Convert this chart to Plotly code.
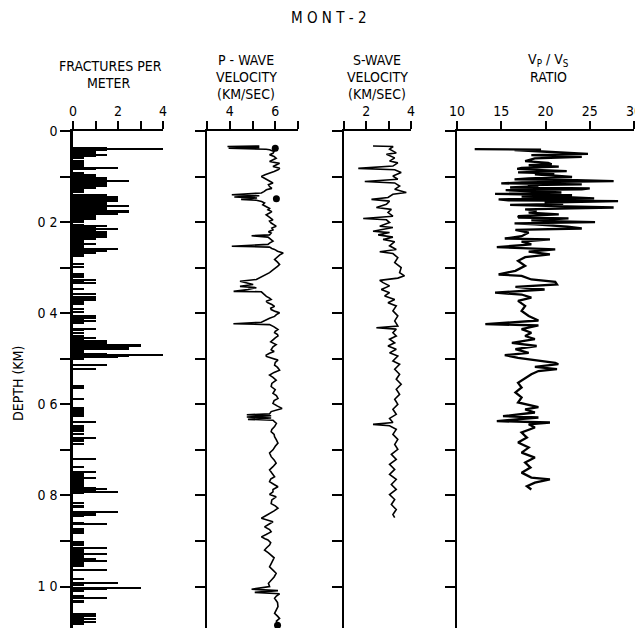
import plotly.graph_objects as go

# ---------------- data ----------------
# Fractures per meter (depth km, value)
frac_depth = [0.038, 0.040, 0.041, 0.043, 0.046, 0.048, 0.050, 0.052, 0.054, 0.056, 0.060, 0.066, 0.069, 0.073,
              0.078, 0.081, 0.084, 0.092, 0.095, 0.098, 0.101, 0.104, 0.107, 0.110, 0.113, 0.116, 0.119, 0.122,
              0.126, 0.130, 0.135, 0.140, 0.143, 0.146, 0.148, 0.150, 0.152, 0.154, 0.157, 0.159, 0.161, 0.163,
              0.165, 0.168, 0.170, 0.172, 0.174, 0.176, 0.178, 0.180, 0.182, 0.185, 0.187, 0.190, 0.192, 0.194,
              0.197, 0.199, 0.201, 0.206, 0.209, 0.211, 0.213, 0.216, 0.218, 0.220, 0.222, 0.224, 0.227, 0.229,
              0.232, 0.234, 0.237, 0.241, 0.243, 0.246, 0.249, 0.252, 0.256, 0.260, 0.262, 0.264, 0.266, 0.268,
              0.270, 0.272, 0.274, 0.293, 0.300, 0.315, 0.318, 0.322, 0.327, 0.329, 0.335, 0.348, 0.359, 0.364,
              0.366, 0.368, 0.370, 0.372, 0.375, 0.377, 0.381, 0.392, 0.398, 0.406, 0.408, 0.410, 0.413, 0.417,
              0.421, 0.435, 0.437, 0.443, 0.450, 0.455, 0.458, 0.461, 0.464, 0.466, 0.470, 0.473, 0.476, 0.479,
              0.482, 0.485, 0.490, 0.492, 0.494, 0.496, 0.499, 0.501, 0.514, 0.522, 0.560, 0.565, 0.589, 0.608,
              0.611, 0.614, 0.617, 0.620, 0.623, 0.626, 0.640, 0.648, 0.652, 0.655, 0.660, 0.666, 0.675, 0.678,
              0.681, 0.688, 0.721, 0.739, 0.750, 0.754, 0.757, 0.763, 0.767, 0.772, 0.776, 0.779, 0.785, 0.787,
              0.789, 0.792, 0.796, 0.817, 0.823, 0.827, 0.838, 0.841, 0.843, 0.845, 0.860, 0.862, 0.864, 0.874,
              0.878, 0.882, 0.903, 0.906, 0.909, 0.915, 0.920, 0.925, 0.929, 0.933, 0.936, 0.940, 0.943, 0.945,
              0.948, 0.950, 0.955, 0.964, 0.984, 0.992, 0.997, 1.003, 1.006, 1.010, 1.021, 1.026, 1.032, 1.035,
              1.060, 1.063, 1.066, 1.069, 1.072, 1.075, 1.079, 1.082]
frac_value = [1.5, 4.0, 2.5, 1.5, 1.0, 1.0, 0.5, 0.5, 1.5, 1.0, 0.5, 0.5, 0.5, 0.5,
              0.5, 2.0, 1.0, 0.5, 0.5, 1.0, 1.0, 1.5, 1.5, 2.5, 1.5, 1.5, 1.5, 1.5,
              1.0, 0.5, 0.5, 1.5, 1.5, 2.0, 1.5, 2.0, 1.5, 2.0, 1.0, 1.5, 1.5, 1.5,
              2.5, 1.5, 1.0, 1.5, 1.0, 2.5, 2.5, 1.5, 2.0, 0.5, 1.0, 1.0, 1.0, 1.0,
              0.5, 0.5, 0.5, 0.5, 1.5, 0.5, 1.0, 2.0, 0.5, 1.0, 1.5, 1.5, 1.5, 1.0,
              1.5, 1.5, 1.0, 0.5, 0.5, 0.5, 1.0, 0.5, 0.5, 2.0, 0.5, 1.5, 0.5, 1.0,
              0.5, 0.5, 0.5, 0.5, 0.5, 0.5, 0.5, 0.5, 1.0, 0.5, 1.0, 0.5, 1.0, 0.5,
              1.0, 0.5, 1.0, 1.0, 0.5, 0.5, 0.5, 0.5, 0.5, 1.0, 0.5, 1.0, 0.5, 1.0,
              0.5, 1.0, 0.5, 0.5, 0.5, 1.0, 0.5, 1.5, 0.5, 1.5, 3.0, 3.0, 2.5, 2.5,
              0.5, 0.5, 1.5, 4.0, 2.5, 2.0, 0.5, 0.5, 1.5, 1.0, 0.5, 0.5, 0.5, 0.5,
              0.5, 0.5, 0.5, 0.5, 0.5, 0.5, 1.0, 0.5, 0.5, 0.5, 0.5, 0.5, 1.0, 0.5,
              0.5, 0.5, 1.0, 0.5, 1.0, 0.5, 0.5, 1.0, 0.5, 0.5, 0.5, 0.5, 1.0, 1.5,
              1.0, 2.0, 0.5, 0.5, 0.5, 0.5, 2.0, 1.0, 1.0, 0.5, 0.5, 0.5, 1.5, 0.5,
              0.5, 0.5, 0.5, 0.5, 0.5, 1.5, 0.5, 0.5, 1.5, 0.5, 0.5, 1.0, 0.5, 1.5,
              0.5, 0.5, 0.5, 1.5, 0.5, 2.0, 0.5, 3.0, 1.5, 0.5, 0.5, 1.5, 0.5, 0.5,
              1.0, 0.5, 1.0, 0.5, 1.0, 0.5, 1.0, 0.5]

# P-wave velocity (km/s)
p_depth = [0.033, 0.034, 0.036, 0.038, 0.040, 0.041, 0.045, 0.049, 0.052, 0.056, 0.060, 0.064, 0.067, 0.071,
           0.075, 0.078, 0.082, 0.085, 0.089, 0.092, 0.096, 0.100, 0.104, 0.107, 0.111, 0.114, 0.118, 0.122,
           0.126, 0.129, 0.133, 0.136, 0.140, 0.142, 0.145, 0.147, 0.150, 0.152, 0.155, 0.158, 0.162, 0.166,
           0.170, 0.173, 0.177, 0.180, 0.184, 0.187, 0.191, 0.195, 0.198, 0.202, 0.206, 0.209, 0.213, 0.217,
           0.221, 0.224, 0.228, 0.230, 0.233, 0.238, 0.242, 0.246, 0.249, 0.253, 0.255, 0.258, 0.260, 0.264,
           0.268, 0.272, 0.275, 0.279, 0.282, 0.288, 0.293, 0.297, 0.300, 0.305, 0.311, 0.315, 0.319, 0.323,
           0.326, 0.330, 0.333, 0.337, 0.341, 0.344, 0.348, 0.352, 0.353, 0.358, 0.363, 0.367, 0.370, 0.374,
           0.377, 0.381, 0.385, 0.389, 0.392, 0.396, 0.399, 0.403, 0.407, 0.411, 0.414, 0.420, 0.423, 0.425,
           0.430, 0.436, 0.440, 0.443, 0.447, 0.450, 0.454, 0.458, 0.463, 0.469, 0.474, 0.480, 0.484, 0.488,
           0.492, 0.495, 0.499, 0.503, 0.508, 0.514, 0.519, 0.525, 0.530, 0.536, 0.541, 0.547, 0.554, 0.561,
           0.568, 0.576, 0.581, 0.587, 0.592, 0.598, 0.604, 0.609, 0.616, 0.621, 0.623, 0.625, 0.628, 0.630,
           0.633, 0.635, 0.642, 0.649, 0.655, 0.660, 0.666, 0.671, 0.678, 0.685, 0.692, 0.700, 0.707, 0.715,
           0.722, 0.729, 0.737, 0.744, 0.751, 0.759, 0.764, 0.770, 0.776, 0.781, 0.787, 0.792, 0.798, 0.803,
           0.810, 0.818, 0.823, 0.828, 0.834, 0.839, 0.844, 0.850, 0.854, 0.858, 0.864, 0.869, 0.875, 0.880,
           0.886, 0.891, 0.895, 0.898, 0.904, 0.909, 0.915, 0.920, 0.926, 0.931, 0.937, 0.942, 0.950, 0.957,
           0.964, 0.971, 0.979, 0.986, 0.993, 1.000, 1.006, 1.009, 1.013, 1.016, 1.021, 1.026, 1.035, 1.044,
           1.052, 1.059, 1.065, 1.070, 1.076, 1.081, 1.088]
p_vel = [5.3, 3.9, 5.3, 3.95, 5.6, 5.75, 5.95, 5.9, 5.75, 5.95, 6.04, 5.85, 5.75, 6.19,
         6.0, 5.9, 6.2, 6.12, 5.95, 5.75, 5.55, 5.39, 5.55, 5.68, 5.8, 5.9, 5.7, 5.75,
         5.85, 5.61, 5.5, 5.39, 4.09, 5.3, 4.2, 5.2, 4.5, 5.17, 5.4, 5.53, 5.45, 5.61,
         5.75, 5.68, 5.85, 5.75, 5.6, 5.68, 5.8, 5.9, 5.75, 5.82, 5.95, 6.04, 5.85, 5.9,
         5.7, 5.82, 5.75, 4.96, 5.68, 5.8, 5.9, 5.75, 5.68, 4.09, 5.75, 5.85, 5.97, 6.1,
         6.35, 6.2, 6.12, 6.0, 5.97, 6.1, 6.19, 6.1, 6.04, 5.9, 5.75, 5.6, 5.46, 5.3,
         5.17, 4.45, 4.74, 5.03, 4.45, 5.17, 4.8, 4.17, 5.39, 5.5, 5.61, 5.75, 5.82, 5.6,
         5.68, 5.85, 5.97, 5.8, 5.82, 6.0, 6.19, 6.05, 5.97, 5.75, 5.61, 5.39, 4.16, 5.75,
         5.95, 6.12, 6.0, 5.97, 6.1, 6.12, 6.0, 5.9, 5.8, 6.04, 5.9, 5.82, 5.95, 5.75,
         5.6, 5.61, 5.9, 6.12, 6.0, 5.97, 6.1, 6.19, 5.95, 5.75, 5.9, 6.04, 5.85, 5.82,
         6.0, 5.9, 6.05, 6.12, 5.95, 5.9, 6.1, 6.3, 5.82, 5.75, 4.75, 5.82, 4.75, 5.82,
         4.8, 5.9, 6.05, 5.97, 5.85, 5.82, 5.95, 5.97, 6.05, 6.12, 6.0, 5.9, 5.75, 5.82,
         5.95, 6.04, 5.9, 5.75, 5.85, 5.97, 5.8, 5.75, 5.95, 6.12, 5.9, 5.9, 5.75, 6.04,
         5.85, 5.82, 6.0, 6.12, 5.95, 5.75, 5.6, 5.39, 5.7, 5.9, 5.7, 5.53, 5.75, 5.82,
         5.6, 5.39, 5.55, 5.68, 5.8, 5.75, 5.62, 5.53, 5.7, 5.82, 5.95, 5.9, 5.8, 5.75,
         5.9, 6.04, 5.95, 5.82, 5.7, 5.75, 4.96, 6.12, 5.1, 6.19, 6.05, 5.97, 6.1, 6.12,
         6.05, 5.97, 6.1, 6.19, 6.05, 6.12, 6.04]
p_dot_depth = [0.038, 0.149, 1.085]
p_dot_vel = [6.0, 6.05, 6.1]

# S-wave velocity (km/s)
s_depth = [0.033, 0.034, 0.040, 0.048, 0.051, 0.059, 0.066, 0.070, 0.077, 0.082, 0.085, 0.091, 0.099, 0.106,
           0.111, 0.114, 0.121, 0.128, 0.135, 0.139, 0.146, 0.150, 0.154, 0.161, 0.168, 0.172, 0.179, 0.187,
           0.192, 0.195, 0.201, 0.209, 0.212, 0.220, 0.223, 0.228, 0.233, 0.238, 0.243, 0.252, 0.260, 0.265,
           0.269, 0.278, 0.289, 0.300, 0.311, 0.318, 0.323, 0.328, 0.333, 0.340, 0.348, 0.355, 0.362, 0.370,
           0.377, 0.384, 0.395, 0.406, 0.417, 0.428, 0.432, 0.435, 0.443, 0.450, 0.457, 0.465, 0.472, 0.479,
           0.487, 0.494, 0.505, 0.512, 0.523, 0.534, 0.545, 0.556, 0.567, 0.578, 0.589, 0.600, 0.611, 0.622,
           0.631, 0.640, 0.644, 0.647, 0.655, 0.666, 0.677, 0.688, 0.699, 0.710, 0.721, 0.732, 0.743, 0.754,
           0.765, 0.776, 0.787, 0.798, 0.809, 0.820, 0.831, 0.842, 0.849]
s_vel = [2.3, 3.2, 3.04, 3.34, 2.90, 3.27, 3.04, 3.41, 3.19, 1.64, 3.27, 3.56, 3.19, 3.41,
         1.93, 3.27, 3.49, 3.27, 3.79, 3.19, 2.97, 2.23, 3.04, 2.90, 2.45, 3.12, 2.97, 3.19,
         1.86, 2.90, 3.04, 2.60, 3.19, 2.30, 3.04, 2.53, 3.19, 2.75, 3.27, 3.04, 3.34, 2.60,
         3.19, 3.41, 3.27, 3.56, 3.49, 3.71, 3.41, 2.60, 2.75, 3.04, 2.67, 3.04, 2.82, 3.27,
         2.97, 3.34, 3.19, 3.41, 3.27, 3.41, 2.45, 3.34, 3.19, 3.34, 3.04, 3.27, 2.97, 3.34,
         3.04, 3.41, 3.19, 3.49, 3.27, 3.49, 3.34, 3.56, 3.34, 3.49, 3.27, 3.41, 3.19, 3.34,
         3.04, 3.19, 2.30, 3.04, 3.34, 3.19, 3.41, 3.27, 3.41, 3.12, 3.34, 3.04, 3.27, 3.04,
         3.34, 3.12, 3.34, 3.04, 3.27, 3.12, 3.34, 3.19, 3.27]

# Vp/Vs ratio (labels as printed: 10..30)
r_depth = [0.040, 0.041, 0.042, 0.045, 0.050, 0.053, 0.057, 0.060, 0.066, 0.070, 0.073, 0.075, 0.078, 0.081,
           0.083, 0.086, 0.088, 0.091, 0.093, 0.095, 0.098, 0.101, 0.104, 0.106, 0.108, 0.110, 0.113, 0.115,
           0.117, 0.119, 0.121, 0.124, 0.126, 0.128, 0.130, 0.132, 0.135, 0.138, 0.141, 0.143, 0.144, 0.146,
           0.148, 0.150, 0.152, 0.154, 0.157, 0.160, 0.162, 0.165, 0.168, 0.170, 0.172, 0.175, 0.179, 0.183,
           0.187, 0.190, 0.192, 0.196, 0.198, 0.200, 0.203, 0.205, 0.210, 0.214, 0.217, 0.223, 0.231, 0.236,
           0.238, 0.243, 0.249, 0.255, 0.258, 0.260, 0.265, 0.271, 0.277, 0.285, 0.296, 0.307, 0.315, 0.318,
           0.326, 0.331, 0.337, 0.342, 0.348, 0.355, 0.359, 0.366, 0.373, 0.384, 0.395, 0.406, 0.416, 0.424,
           0.427, 0.435, 0.443, 0.450, 0.457, 0.465, 0.472, 0.479, 0.487, 0.492, 0.498, 0.503, 0.509, 0.512,
           0.518, 0.523, 0.527, 0.534, 0.542, 0.553, 0.563, 0.574, 0.585, 0.596, 0.606, 0.611, 0.618, 0.626,
           0.629, 0.637, 0.640, 0.644, 0.651, 0.662, 0.673, 0.684, 0.695, 0.706, 0.717, 0.728, 0.739, 0.750,
           0.761, 0.765, 0.772, 0.780, 0.787]
r_val = [12.0, 19.5, 16.5, 19.6, 24.8, 18.4, 24.1, 18.8, 17.7, 20.3, 20.7, 18.1, 21.5, 17.3,
         16.8, 19.6, 22.4, 16.9, 21.0, 18.8, 20.8, 23.0, 18.1, 16.5, 23.5, 27.7, 17.3, 15.0,
         24.1, 18.0, 19.2, 16.0, 25.0, 24.1, 15.5, 18.8, 21.8, 14.3, 23.0, 19.5, 17.3, 23.1,
         25.5, 14.7, 15.8, 28.2, 19.9, 22.0, 16.0, 21.1, 27.7, 23.0, 17.7, 19.0, 18.1, 21.5,
         16.9, 17.0, 22.6, 18.4, 20.5, 25.6, 16.5, 18.8, 22.5, 24.1, 16.6, 18.1, 17.3, 15.4,
         20.5, 17.3, 18.4, 14.5, 18.4, 21.1, 18.1, 20.5, 17.7, 16.9, 17.7, 16.6, 14.7, 17.3,
         18.4, 21.1, 21.3, 16.6, 19.9, 14.3, 17.3, 18.4, 16.9, 17.7, 17.3, 18.1, 19.2, 13.2,
         19.2, 17.3, 18.4, 17.7, 18.8, 16.2, 19.0, 16.6, 18.1, 15.4, 16.9, 18.8, 21.1, 21.45,
         18.8, 21.3, 19.2, 18.4, 17.7, 16.9, 17.3, 16.6, 17.3, 16.9, 19.2, 17.7, 18.8, 15.2,
         19.2, 14.5, 20.5, 18.1, 18.8, 17.3, 17.9, 16.9, 18.1, 17.3, 18.8, 17.7, 18.3, 17.3,
         18.4, 20.5, 18.8, 17.9, 18.4]

y_major = [0.0, 0.2, 0.4, 0.6, 0.8, 1.0]
y_text = ["0", "0 2", "0 4", "0 6", "0 8", "1 0"]
y_minor = [0.1, 0.3, 0.5, 0.7, 0.9]
y_all = [0.0, 0.1, 0.2, 0.3, 0.4, 0.5, 0.6, 0.7, 0.8, 0.9, 1.0]

frac_major, frac_text, frac_minor = [0, 2, 4], ["0", "2", "4"], [1, 3]
p_major, p_text, p_minor = [4, 6], ["4", "6"], [3, 5, 7]
s_major, s_text, s_minor = [2, 4], ["2", "4"], [1, 3]
r_major, r_text = [10, 15, 20, 25, 30], ["10", "15", "20", "25", "30"]

# ---------------- figure ----------------
W, H = 643, 628
OFF = 8  # page body margin offset of the plot div
FONT = "Liberation Sans Narrow, DejaVu Sans Condensed, Arial Narrow, sans-serif"
INK = "#000000"

def px_x(sx):
    return (sx - OFF) / W

def px_y(sy):
    return 1 - (sy - OFF) / H

fig = go.Figure()
fig.add_trace(go.Bar(x=frac_value, y=frac_depth, orientation="h", width=0.0032,
                     marker=dict(color=INK, line=dict(width=0)), xaxis="x", yaxis="y"))
fig.add_trace(go.Scatter(x=p_vel, y=p_depth, mode="lines", line=dict(color=INK, width=1.6),
                         xaxis="x2", yaxis="y2"))
fig.add_trace(go.Scatter(x=p_dot_vel, y=p_dot_depth, mode="markers", marker=dict(color=INK, size=7),
                         xaxis="x2", yaxis="y2"))
fig.add_trace(go.Scatter(x=s_vel, y=s_depth, mode="lines", line=dict(color=INK, width=1.6),
                         xaxis="x3", yaxis="y3"))
fig.add_trace(go.Scatter(x=r_val, y=r_depth, mode="lines", line=dict(color=INK, width=2.3),
                         xaxis="x4", yaxis="y4"))

top_px = 131          # screen y of depth 0
px_per_km = 455.5
ydom = [0, px_y(top_px)]
bottom_screen = OFF + H
yrange = [(bottom_screen - top_px) / px_per_km, 0]

def xa(dom_px, rng, tv, tt, minor_vals, anchor):
    d = dict(domain=[px_x(dom_px[0]), px_x(dom_px[1])], range=rng, side="top", anchor=anchor,
             automargin=False, tickmode="array", tickvals=tv, ticktext=tt, ticks="outside",
             ticklen=8, tickwidth=1.5, tickcolor=INK,
             showline=True, linecolor=INK, linewidth=1.5, showgrid=False, zeroline=False,
             tickfont=dict(family=FONT, size=14, color=INK), fixedrange=True)
    if minor_vals:
        d["minor"] = dict(tickmode="array", tickvals=minor_vals, ticks="outside", ticklen=8,
                          tickwidth=1.5, tickcolor=INK, showgrid=False)
    return d

def ya(anchor, labels, lw=2):
    d = dict(domain=ydom, range=yrange, anchor=anchor, automargin=False,
             ticks="outside", ticklen=10, tickwidth=1.5, tickcolor=INK,
             showline=True, linecolor=INK, linewidth=lw, showgrid=False, zeroline=False,
             tickfont=dict(family=FONT, size=14, color=INK), fixedrange=True)
    if labels:
        d.update(tickmode="array", tickvals=y_major, ticktext=y_text, showticklabels=True,
                 minor=dict(tickmode="array", tickvals=y_minor, ticks="outside", ticklen=10,
                            tickwidth=1.5, tickcolor=INK, showgrid=False))
    else:
        d.update(tickmode="array", tickvals=y_all, showticklabels=False)
    return d

fig.update_layout(
    template="none",
    width=W, height=H, autosize=False, showlegend=False,
    margin=dict(l=0, r=0, t=0, b=0, pad=0, autoexpand=False),
    paper_bgcolor="white", plot_bgcolor="white",
    bargap=0,
    xaxis=xa((73, 163), [0, 4], frac_major, frac_text, frac_minor, "y"),
    xaxis2=xa((207, 298), [3, 7], p_major, p_text, p_minor, "y2"),
    xaxis3=xa((344, 411), [1, 4], s_major, s_text, s_minor, "y3"),
    xaxis4=xa((457, 634), [10, 30], r_major, r_text, None, "y4"),
    yaxis=ya("x", True, lw=2.5),
    yaxis2=ya("x2", False),
    yaxis3=ya("x3", False),
    yaxis4=ya("x4", False),
)

def ann(text, sx, sy, size=14, angle=0):
    fig.add_annotation(text=text, x=px_x(sx), y=px_y(sy), xref="paper", yref="paper",
                       showarrow=False, textangle=angle, xanchor="center", yanchor="middle",
                       font=dict(family=FONT, size=size, color=INK))

ann("M O N T - 2", 328, 18, size=15)
ann("FRACTURES PER", 110, 66)
ann("METER", 108, 83)
ann("P - WAVE", 246, 60)
ann("VELOCITY", 246, 77)
ann("(KM/SEC)", 246, 94)
ann("S-WAVE", 377, 60)
ann("VELOCITY", 377, 77)
ann("(KM/SEC)", 377, 94)
ann("V<sub>P</sub> / V<sub>S</sub>", 548, 60)
ann("RATIO", 548, 77)
ann("DEPTH (KM)", 18, 384, size=14, angle=-90)

fig.write_html("out.html")
